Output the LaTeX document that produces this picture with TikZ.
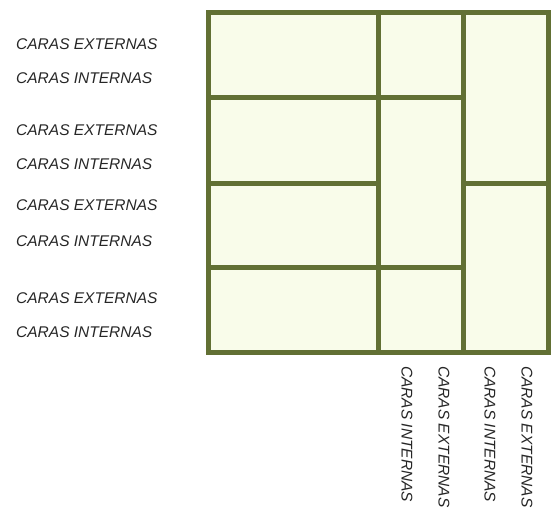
\documentclass[tikz,border=0pt]{standalone}
\usepackage{fontspec}
\setmainfont{Liberation Sans}
\usepackage{tikz}
\usetikzlibrary{positioning}

\definecolor{marco}{RGB}{98,112,52}
\definecolor{panel}{RGB}{249,252,234}

\tikzset{
	tablero/.style={draw=marco, fill=panel, line width=5pt},
	cara/.style={anchor=west, inner sep=0pt, font=\fontsize{15.5}{18}\selectfont\itshape, text=black!85},
	caravert/.style={cara, rotate=-90}
}

\begin{document}
\begin{tikzpicture}[x=1pt,y=-1pt]
				\useasboundingbox (0,0) rectangle (551,517);
				
				% columna izquierda
				\draw[tablero] (208,12) rectangle (378,97);
				\draw[tablero] (208,97) rectangle (378,183);
				\draw[tablero] (208,183) rectangle (378,267);
				\draw[tablero] (208,267) rectangle (378,352);
				% columna central
				\draw[tablero] (378,12) rectangle (463,97);
				\draw[tablero] (378,97) rectangle (463,267);
				\draw[tablero] (378,267) rectangle (463,352);
				% columna derecha
				\draw[tablero] (463,12) rectangle (548,183);
				\draw[tablero] (463,183) rectangle (548,352);
				
				\node[cara] (E1) at (16,44) {CARAS EXTERNAS};
				\node[cara] (I1) at (16,78) {CARAS INTERNAS};
				\node[cara] (E2) at (16,130) {CARAS EXTERNAS};
				\node[cara] (I2) at (16,164) {CARAS INTERNAS};
				\node[cara] (E3) at (16,205) {CARAS EXTERNAS};
				\node[cara] (I3) at (16,241) {CARAS INTERNAS};
				\node[cara] (E4) at (16,298) {CARAS EXTERNAS};
				\node[cara] (I4) at (16,332) {CARAS INTERNAS};
				
				\node[caravert] (V1) at (407,366) {CARAS INTERNAS};
				\node[caravert] (V2) at (444,366) {CARAS EXTERNAS};
				\node[caravert] (V3) at (490,366) {CARAS INTERNAS};
				\node[caravert] (V4) at (527,366) {CARAS EXTERNAS};
			\end{tikzpicture}
\end{document}
